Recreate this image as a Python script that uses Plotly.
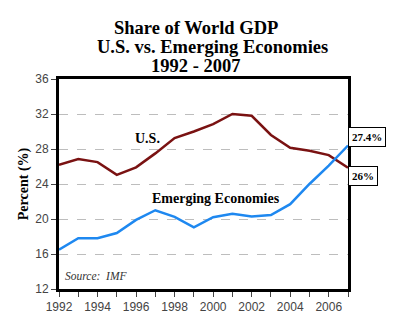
import plotly.graph_objects as go

years = list(range(1992, 2008))
us_share = [26.2, 26.85, 26.5, 25.05, 25.9, 27.5, 29.25, 30.0, 30.85, 32.0, 31.8, 29.6, 28.15, 27.8, 27.3, 25.85]
emerging_share = [16.5, 17.8, 17.8, 18.4, 19.9, 21.0, 20.25, 19.05, 20.2, 20.6, 20.3, 20.45, 21.7, 24.0, 26.1, 28.4]
y_ticks = [12, 16, 20, 24, 28, 32, 36]
x_labels = [str(y) if y % 2 == 0 else "" for y in years]

SERIF = "Liberation Serif, DejaVu Serif, serif"
SANS = "Liberation Sans, Arial, sans-serif"

fig = go.Figure()
fig.add_trace(go.Scatter(x=years, y=us_share, mode="lines",
                         line=dict(color="#7a1212", width=2.5), showlegend=False))
fig.add_trace(go.Scatter(x=years, y=emerging_share, mode="lines",
                         line=dict(color="#1e88f0", width=2.5), showlegend=False))

fig.update_layout(
    width=400, height=326,
    margin=dict(l=59, r=52, t=79, b=31),
    paper_bgcolor="white", plot_bgcolor="white",
    xaxis=dict(range=[1992, 2007], tickvals=years, ticktext=x_labels,
               ticks="outside", ticklen=5, tickcolor="#444", tickwidth=1,
               tickfont=dict(family=SANS, size=12, color="#444"),
               showgrid=False, showline=True, linecolor="black", linewidth=3,
               mirror=True, zeroline=False),
    yaxis=dict(range=[12, 36], tickvals=y_ticks,
               ticks="outside", ticklen=5, tickcolor="#444", tickwidth=1,
               tickfont=dict(family=SANS, size=12, color="#444"),
               showgrid=True, gridcolor="#bdbdbd", griddash="dash", gridwidth=1,
               showline=True, linecolor="black", linewidth=3, mirror=True,
               zeroline=False,
               title=dict(text="<b>Percent (%)</b>", font=dict(family=SERIF, size=14, color="black"),
                          standoff=4)),
)

annotations = [
    dict(text="<b>Share of World GDP</b>", x=196, y=27),
    dict(text="<b>U.S. vs. Emerging Economies</b>", x=212, y=46),
    dict(text="<b>1992 - 2007</b>", x=195, y=66),
]
for a in annotations:
    fig.add_annotation(text=a["text"], xref="paper", yref="paper",
                       x=(a["x"] - 59) / 289, y=1 + (79 - a["y"]) / 216,
                       xanchor="center", yanchor="middle", showarrow=False,
                       font=dict(family=SERIF, size=18.5, color="black"))

fig.add_annotation(text="<b>U.S.</b>", x=1996.57, y=29.2, showarrow=False,
                   font=dict(family=SERIF, size=14, color="black"))
fig.add_annotation(text="<b>Emerging Economies</b>", x=2000.17, y=22.3, showarrow=False,
                   font=dict(family=SERIF, size=14, color="black"))
fig.add_annotation(text="<i>Source:  IMF</i>", xref="paper", yref="paper", x=0.015, y=0.025,
                   xanchor="left", yanchor="bottom", showarrow=False,
                   font=dict(family=SERIF, size=11.5, color="#333"))
fig.add_annotation(text="<b>27.4%</b>", xref="paper", x=1.0, xanchor="left", y=29.35, yref="y",
                   showarrow=False, bgcolor="white", bordercolor="black", borderwidth=1, borderpad=3,
                   font=dict(family=SERIF, size=11, color="black"))
fig.add_annotation(text="<b>26%</b>", xref="paper", x=1.0, xanchor="left", y=24.9, yref="y",
                   showarrow=False, bgcolor="white", bordercolor="black", borderwidth=1, borderpad=3,
                   font=dict(family=SERIF, size=11, color="black"))

fig.write_html("out.html")
